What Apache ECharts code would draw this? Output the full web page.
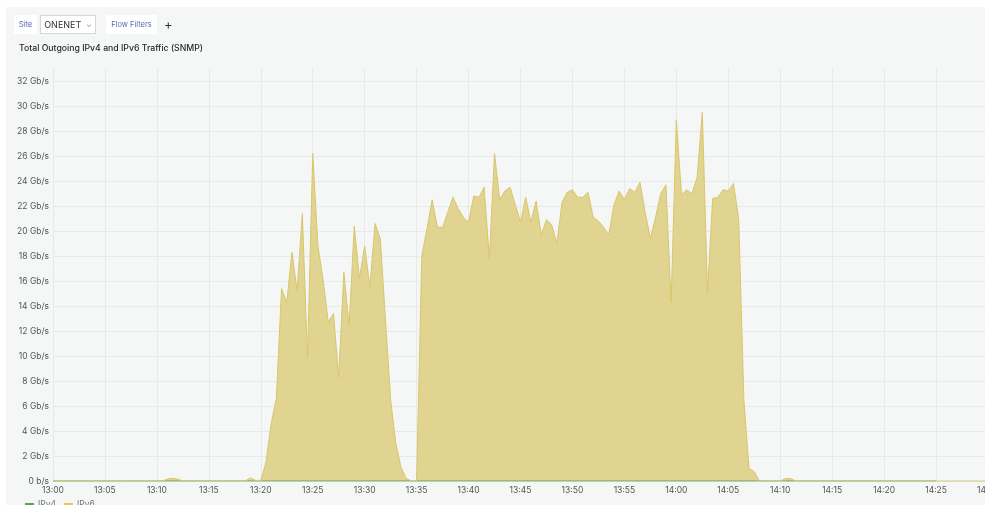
<!DOCTYPE html>
<html>
<head>
<meta charset="utf-8">
<script src="https://cdn.jsdelivr.net/npm/echarts@6/dist/echarts.min.js"></script>
<style>
  html,body{margin:0;padding:0;background:#ffffff;width:985px;height:505px;overflow:hidden;font-family:Inter,"Noto Sans",sans-serif;}
  #panel{position:absolute;left:6px;top:7px;right:0;bottom:0;background:#f5f6f6;}
  #chart{position:absolute;left:0;top:0;width:985px;height:505px;}
  .btn{position:absolute;top:15px;height:19px;background:#ffffff;box-sizing:border-box;display:flex;align-items:center;justify-content:center;}
  .blue{color:#5c68b5;font-size:7.5px;}
  #site{left:14px;width:23px;}
  #onenet{left:40px;width:56px;border:1px solid #d6d8d8;color:#333;font-size:9px;}
  #onenet span{font-size:7px;color:#888;margin-left:5px;}
  #flow{left:106px;width:51px;}
  #plus{position:absolute;left:164px;top:15px;height:19px;line-height:19px;font-size:13px;color:#333;}
  #title{position:absolute;left:19px;top:43px;font-size:8.7px;color:#2a2a2a;font-weight:500;white-space:nowrap;}
</style>
</head>
<body>
<div id="panel"></div>
<div id="chart"></div>
<div class="btn blue" id="site">Site</div>
<div class="btn" id="onenet">ONENET<span>&#8964;</span></div>
<div class="btn blue" id="flow">Flow Filters</div>
<div id="plus">+</div>
<div id="title">Total Outgoing IPv4 and IPv6 Traffic (SNMP)</div>
<script>
// 30-second samples from 13:00 to 14:30 (181 points), Gb/s
const ipv6 = [
  0,0,0,0,0,0,0,0,0,0,
  0,0,0,0,0,0,0,0,0,0,
  0,0,0.15,0.22,0.15,0,0,0,0,0,
  0,0,0,0,0,0,0,0,0.25,0.05,
  0.05,1.5,4.6,6.6,15.4,14.3,18.3,15.2,21.4,9.8,
  26.2,18.8,16.1,12.7,13.4,8.3,16.7,12.4,20.4,16.2,
  18.8,15.5,20.6,19.4,12.9,6.5,3.0,1.1,0.2,0,
  0,18.0,20.2,22.5,20.3,20.3,21.5,22.7,21.8,21.1,
  20.7,22.8,22.7,23.5,17.8,26.2,22.5,23.2,23.5,22.1,
  20.7,22.7,20.7,22.4,19.7,20.9,20.5,19.0,22.3,23.1,
  23.3,22.7,22.7,23.1,21.1,20.8,20.3,19.7,22.1,23.2,
  22.5,23.4,23.1,23.9,21.5,19.4,21.1,23.0,23.7,14.3,
  28.9,22.9,23.3,23.0,24.3,29.5,15.1,22.6,22.7,23.3,
  23.2,23.8,21.0,6.5,1.0,0.75,0,0,0,0,
  0,0.2,0.2,0,0,0,0,0,0,0,
  0,0,0,0,0,0,0,0,0,0,
  0,0,0,0,0,0,0,0,0,0,
  0,0,0,0,0,0,0,0,0,0,
  0
];
const ipv4 = [
  0,0,0,0,0,0,0,0,0,0, 0,0,0,0,0,0,0,0,0,0,
  0,0,0,0,0,0,0,0,0,0, 0,0,0,0,0,0,0,0,0,0,
  0,0,0,0,0,0,0,0,0,0, 0,0,0,0,0,0,0,0,0,0,
  0,0,0,0,0,0,0,0,0,0, 0,0,0,0,0,0,0,0,0,0,
  0,0,0,0,0,0,0,0,0,0, 0,0,0,0,0,0,0,0,0,0,
  0,0,0,0,0,0,0,0,0,0, 0,0,0,0,0,0,0,0,0,0,
  0,0,0,0,0,0,0,0,0,0, 0,0,0,0,0,0,0,0,0,0,
  0,0,0,0,0,0,0,0,0,0, 0,0,0,0,0,0,0,0,0,0,
  0,0,0,0,0,0,0,0,0,0, 0
];
const tickLabels = ["13:00","13:05","13:10","13:15","13:20","13:25","13:30","13:35","13:40","13:45",
                    "13:50","13:55","14:00","14:05","14:10","14:15","14:20","14:25","14:30"];
const seriesNames = ["IPv4","IPv6"];

// category list: each 5-minute tick label followed by its 30-second steps
const categories = [];
tickLabels.forEach((t, k) => {
  categories.push(t);
  if (k < tickLabels.length - 1) {
    for (let s = 1; s < 10; s++) categories.push(t + "+" + (s * 30) + "s");
  }
});

const chart = echarts.init(document.getElementById('chart'), null, {renderer: 'canvas'});
const splitColors = [];
for (let k = 0; k <= 16; k++) splitColors.push('#e8eaea');
splitColors.push('rgba(0,0,0,0)');

chart.setOption({
  animation: false,
  backgroundColor: 'transparent',
  grid: {left: 53, right: -3, top: 68.5, bottom: 24, containLabel: false, outerBoundsMode: 'none'},
  legend: {
    left: 20, top: 495, itemWidth: 9, itemHeight: 3, itemGap: 8,
    icon: 'rect',
    textStyle: {fontFamily: 'Inter', fontSize: 8.5, color: '#777', padding: [0,0,0,-1]},
    data: seriesNames
  },
  xAxis: {
    type: 'category',
    boundaryGap: false,
    data: categories,
    axisLine: {show: true, lineStyle: {color: '#dcdede', width: 1}},
    axisTick: {show: false},
    axisLabel: {
      interval: 9, color: '#555', fontFamily: 'Inter', fontSize: 8.5, margin: 5,
      formatter: v => v.indexOf('+') >= 0 ? '' : v
    },
    splitLine: {show: true, interval: 9, lineStyle: {color: '#e8eaea', width: 1}}
  },
  yAxis: {
    type: 'value',
    min: 0, max: 33, interval: 2,
    axisLine: {show: false},
    axisTick: {show: false},
    axisLabel: {
      color: '#555', fontFamily: 'Inter', fontSize: 8.5, margin: 4,
      formatter: v => (v % 2 !== 0) ? '' : (v === 0 ? '0 b/s' : v + ' Gb/s')
    },
    splitLine: {show: true, lineStyle: {color: splitColors, width: 1}}
  },
  series: [
    {
      name: seriesNames[0], type: 'line', data: ipv4, symbol: 'none',
      lineStyle: {color: '#5fa24f', width: 1},
      itemStyle: {color: '#5fa24f'},
      areaStyle: {color: '#5fa24f', opacity: 0.6}
    },
    {
      name: seriesNames[1], type: 'line', data: ipv6, symbol: 'none',
      lineStyle: {color: '#d8c66c', width: 1},
      itemStyle: {color: '#e2c95e'},
      areaStyle: {color: '#e1d390', opacity: 1}
    }
  ]
});
</script>
</body>
</html>
